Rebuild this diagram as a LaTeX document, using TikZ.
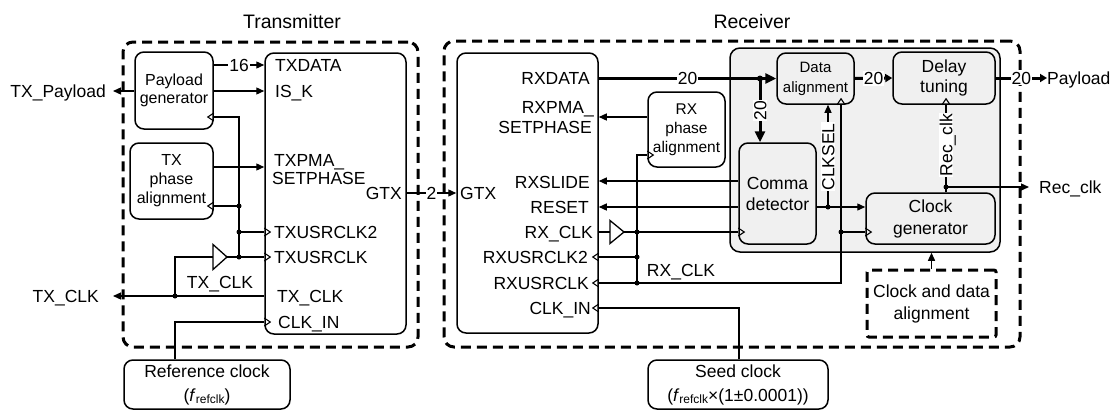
\documentclass[tikz,border=0pt]{standalone}
\usepackage{fontspec}
\setmainfont{Liberation Sans}
\usetikzlibrary{arrows.meta}
\newcommand{\fref}{\textit{f}{\fontsize{12}{12}\selectfont\raisebox{-2.5pt}{refclk}}}
\begin{document}
\begin{tikzpicture}[x=1pt,y=-1pt,
  font=\fontsize{17.5}{21}\selectfont,
  box/.style={draw,line width=1.5pt,rounded corners=9pt,inner sep=0pt,align=center},
  frame/.style={draw,line width=3pt,dash pattern=on 10pt off 6pt,rounded corners=10pt,inner sep=0pt},
  wire/.style={line width=1.3pt},
  arr/.style={wire,-{Triangle[length=8pt,width=7pt]}},
  bus/.style={line width=3pt},
  busarr/.style={bus,-{Triangle[length=11pt,width=10pt]}},
  busarrs/.style={bus,-{Triangle[length=7pt,width=8pt]}},
  port/.style={inner sep=0pt,text height=12.5pt,text depth=0pt},
  num/.style={fill=white,inner sep=1pt,text height=12.5pt,text depth=0pt},
  clkR/.pic={\draw[line width=1.1pt] (0,-4) -- (6,0) -- (0,4);},
  clkL/.pic={\draw[line width=1.1pt] (0,-4) -- (-6,0) -- (0,4);},
  clkU/.pic={\draw[line width=1.1pt] (-4,0) -- (0,-6) -- (4,0);},
]
\useasboundingbox (0,0) rectangle (1113,410);

% ---------- titles and frames ----------
\node[font=\fontsize{19.5}{22}\selectfont] (txtitle) at (292,22) {Transmitter};
\node[font=\fontsize{19.5}{22}\selectfont] (rxtitle) at (752,22) {Receiver};
\node[frame,minimum width=295,minimum height=305] (txframe) at (270.5,194.5) {};
\node[frame,minimum width=576,minimum height=306] (rxframe) at (732,194) {};
\node[draw,fill=black!6,line width=1.5pt,rounded corners=10pt,inner sep=0pt,
      minimum width=270,minimum height=204] (panel) at (865,150) {};

% ---------- transmitter blocks ----------
\node[box,minimum width=78,minimum height=77,font=\fontsize{16}{18.5}\selectfont] (pgen) at (174,90.5) {Payload\\generator};
\node[box,minimum width=83,minimum height=76,font=\fontsize{16}{19}\selectfont] (txpa) at (171.5,181) {TX\\phase\\alignment};
\node[box,minimum width=141,minimum height=281] (txg) at (335.5,193.5) {};

\node[port,anchor=west] (ptxdata) at (275,65) {TXDATA};
\node[port,anchor=west] (pisk) at (275,91) {IS\_K};
\node[port,anchor=west] (ptxpma) at (274,160) {TXPMA\_};
\node[port,anchor=west] (ptxset) at (272,178) {SETPHASE};
\node[port,anchor=east] (ptxgtx) at (402,193) {GTX};
\node[port,anchor=west] (ptxu2) at (274,232) {TXUSRCLK2};
\node[port,anchor=west] (ptxu) at (274,257) {TXUSRCLK};
\node[port,anchor=west] (ptxclk) at (277,296) {TX\_CLK};
\node[port,anchor=west] (ptxclkin) at (278,322) {CLK\_IN};

\node[port,anchor=east] (txpl) at (106,91) {TX\_Payload};
\node[port,anchor=east] (txclkl) at (99,296) {TX\_CLK};
\node[port] (txclkint) at (220,282) {TX\_CLK};
\coordinate (txplo) at (113,91);
\coordinate (txclko) at (113,296);

\node[box,minimum width=166,minimum height=49,font=\fontsize{17.5}{24}\selectfont] (refclk) at (207,384.5) {Reference clock\\(\fref)};

% ---------- receiver blocks ----------
\node[box,minimum width=141,minimum height=280] (rxg) at (527.5,193) {};
\node[box,minimum width=77,minimum height=75,font=\fontsize{15.5}{19}\selectfont] (rxpa) at (686.5,129.5) {RX\\phase\\alignment};
\node[box,minimum width=77,minimum height=51,font=\fontsize{15}{20}\selectfont] (dal) at (815.5,78.5) {Data\\alignment};
\node[box,minimum width=102,minimum height=52,font=\fontsize{17.5}{20}\selectfont] (dly) at (944,78) {Delay\\tuning};
\node[box,minimum width=77,minimum height=101,font=\fontsize{17.5}{21}\selectfont] (comma) at (777.5,193.5) {Comma\\detector};
\node[box,minimum width=129,minimum height=51,font=\fontsize{17.5}{22}\selectfont] (cgen) at (930.5,218.5) {Clock\\generator};
\node[frame,minimum width=129,minimum height=67,rounded corners=2pt,align=center,font=\fontsize{17.5}{22}\selectfont] (cda) at (931.5,303.5) {Clock and data\\alignment};
\node[box,minimum width=180,minimum height=49,font=\fontsize{17.5}{24}\selectfont] (seed) at (738,384.5) {Seed clock\\(\fref{}×(1±0.0001))};

\node[port,anchor=west] (prxgtx) at (460,193) {GTX};
\node[port,anchor=east] (prxdata) at (590,78) {RXDATA};
\node[port,anchor=east] (prxpma) at (594,107) {RXPMA\_};
\node[port,anchor=east] (prxset) at (592,127) {SETPHASE};
\node[port,anchor=east] (prxslide) at (590,182) {RXSLIDE};
\node[port,anchor=east] (prxreset) at (589,207) {RESET};
\node[port,anchor=east] (prxclk) at (593,232) {RX\_CLK};
\node[port,anchor=east] (prxu2) at (588,257) {RXUSRCLK2};
\node[port,anchor=east] (prxu) at (589,283) {RXUSRCLK};
\node[port,anchor=east] (prxclkin) at (591,308) {CLK\_IN};
\node[port] (rxclkint) at (681,270) {RX\_CLK};

\node[port,anchor=west] (payload) at (1047,78) {Payload};
\node[port,anchor=west] (recclkl) at (1039,187) {Rec\_clk};
\coordinate (recclko) at (1029,187);

% ---------- transmitter connections ----------
\draw[arr] (pgen.east |- 0,65) -- (txg.west |- 0,65) node[num,midway] {16};
\draw[arr] (pgen.east |- 0,91) -- (txg.west |- 0,91);
\draw[arr] (pgen.west |- 0,91) -- (txplo);
\draw[arr] (txpa.east |- 0,167) -- (txg.west |- 0,167);

\draw[wire] (pgen.east |- 0,117) -- (239,117) -- (239,257);
\pic at (pgen.east |- 0,117) {clkL};
\draw[wire] (239,206) -- (txpa.east |- 0,206);
\pic at (txpa.east |- 0,206) {clkL};
\draw[wire] (239,232) -- (txg.west |- 0,232);
\pic at (txg.west |- 0,232) {clkR};

\coordinate (tbin) at (213,257);
\coordinate (tbout) at (227,257);
\draw[wire] (tbin) ++(0,-12.5) -- (tbout) -- ++(-14,12.5) -- cycle;
\draw[wire] (tbout) -- (txg.west |- tbout);
\pic at (txg.west |- tbout) {clkR};
\draw[wire] (tbin) -- (175,257) -- (175,296);
\draw[arr] (txg.west |- 0,296) -- (txclko);
\draw[wire] (refclk.north -| 175,0) -- (175,322) -- (txg.west |- 0,322);
\pic at (txg.west |- 0,322) {clkR};
\foreach \p in {(239,206),(239,232),(239,257),(175,296)} \fill \p circle (2.5pt);

\draw[arr] (txg.east |- 0,193) -- (rxg.west |- 0,193) node[num,midway] {2};

% ---------- receiver connections ----------
\draw[busarr] (rxg.east |- dal.west) -- (dal.west) node[num,midway] {20};
\draw[busarr] (760,78.5) -- (comma.north -| 760,0) node[num,midway,rotate=90] {20};
\fill (760,78.5) circle (3pt);
\draw[busarrs] (dal.east) -- (dly.west) node[num,midway] {20};
\draw[busarrs] (dly.east) -- (payload.west) node[num,midway] {20};

\draw[arr] (rxpa.west |- 0,117) -- (rxg.east |- 0,117);
\draw[wire] (637,283) -- (637,155) -- (rxpa.west |- 0,155);
\pic at (rxpa.west |- 0,155) {clkR};

\draw[arr] (comma.west |- 0,181) -- (rxg.east |- 0,181);
\draw[arr] (comma.west |- 0,207) -- (rxg.east |- 0,207);

\coordinate (rbin) at (610,232);
\coordinate (rbout) at (624,232);
\draw[wire] (rbin) ++(0,-11.5) -- (rbout) -- ++(-14,11.5) -- cycle;
\draw[wire] (rxg.east |- rbin) -- (rbin);
\draw[wire] (rbout) -- (comma.west |- rbout);
\pic at (comma.west |- rbout) {clkR};
\draw[wire] (637,257) -- (rxg.east |- 0,257);
\pic at (rxg.east |- 0,257) {clkL};

\draw[wire] (dal.south -| 841,0) -- (841,283) -- (rxg.east |- 0,283);
\pic at (dal.south -| 841,0) {clkU};
\pic at (rxg.east |- 0,283) {clkL};
\draw[wire] (841,232) -- (cgen.west |- 0,232);
\pic at (cgen.west |- 0,232) {clkR};

\draw[arr] (comma.east |- 0,207) -- (cgen.west |- 0,207);
\draw[arr] (828,207) -- (dal.south -| 828,0) node[num,pos=0.49,rotate=90] {CLKSEL};

\draw[wire] (cgen.north -| 946,0) -- (dly.south -| 946,0) node[num,pos=0.54,rotate=90] {Rec\_clk};
\pic at (dly.south -| 946,0) {clkU};
\draw[arr] (946,187) -- (recclko);

\draw[arr] (cda.north) -- (panel.south -| cda.north);

\draw[wire] (seed.north -| 739,0) -- (739,308) -- (rxg.east |- 0,308);
\pic at (rxg.east |- 0,308) {clkL};

\foreach \p in {(637,232),(637,257),(637,283),(841,232),(828,207),(946,187)} \fill \p circle (2.5pt);
\end{tikzpicture}
\end{document}
